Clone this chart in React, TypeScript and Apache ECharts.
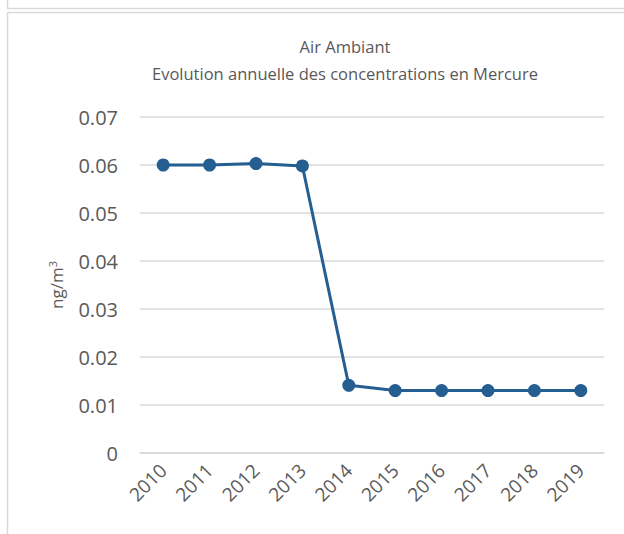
import React, { useEffect, useRef } from "react";
import * as echarts from "echarts";

const years = ["2010", "2011", "2012", "2013", "2014", "2015", "2016", "2017", "2018", "2019"];
const mercury = [0.06, 0.06, 0.0603, 0.0598, 0.0141, 0.013, 0.013, 0.013, 0.013, 0.013];
const titleLines = ["Air Ambiant", "Evolution annuelle des concentrations en Mercure"];

const FONT = "'Open Sans', sans-serif";
const TEXT = "#595959";
const GRID = "#d9d9d9";
const LINE = "#255e91";

export default function App() {
  const ref = useRef<HTMLDivElement>(null);
  useEffect(() => {
    if (!ref.current) return;
    const chart = echarts.init(ref.current, undefined, { renderer: "svg" });
    chart.setOption({
      animation: false,
      backgroundColor: "#ffffff",
      textStyle: { fontFamily: FONT },
      title: {
        text: titleLines.join("\n"),
        left: 340,
        top: 28,
        textAlign: "center",
        textStyle: { fontFamily: FONT, fontSize: 16.5, fontWeight: "normal", color: TEXT, lineHeight: 27 },
      },
      grid: { left: 140, right: 20, top: 117, bottom: 81, containLabel: false },
      xAxis: {
        type: "category",
        data: years,
        boundaryGap: true,
        axisLine: { show: true, lineStyle: { color: GRID, width: 1.5 } },
        axisTick: { show: false },
        axisLabel: { rotate: 45, margin: 14, color: TEXT, fontSize: 19, fontFamily: FONT, interval: 0 },
      },
      yAxis: {
        type: "value",
        min: 0,
        max: 0.07,
        interval: 0.01,
        name: "ng/m{sup|3}",
        nameLocation: "middle",
        nameGap: 74,
        nameRotate: 90,
        nameTextStyle: {
          color: TEXT,
          fontSize: 17,
          fontFamily: FONT,
          rich: { sup: { fontSize: 11, verticalAlign: "top", color: TEXT, fontFamily: FONT, padding: [0, 0, 8, 0] } },
        },
        axisLine: { show: false },
        axisTick: { show: false },
        axisLabel: {
          margin: 22,
          color: TEXT,
          fontSize: 20,
          fontFamily: FONT,
          formatter: (v: number) => (v === 0 ? "0" : v.toFixed(2)),
        },
        splitLine: { show: true, lineStyle: { color: GRID, width: 1.5 } },
      },
      series: [
        {
          type: "line",
          data: mercury,
          symbol: "circle",
          symbolSize: 13,
          lineStyle: { color: LINE, width: 3 },
          itemStyle: { color: LINE },
        },
      ],
      graphic: [
        { type: "rect", shape: { x: 7.5, y: -20, width: 700, height: 28.5 }, style: { fill: "none", stroke: GRID, lineWidth: 1.5 }, silent: true },
        { type: "rect", shape: { x: 7.5, y: 12.5, width: 700, height: 600 }, style: { fill: "none", stroke: GRID, lineWidth: 1.5 }, silent: true },
      ],
    });
    return () => chart.dispose();
  }, []);
  return <div ref={ref} style={{ position: "absolute", left: 0, top: 0, width: 624, height: 534 }} />;
}
